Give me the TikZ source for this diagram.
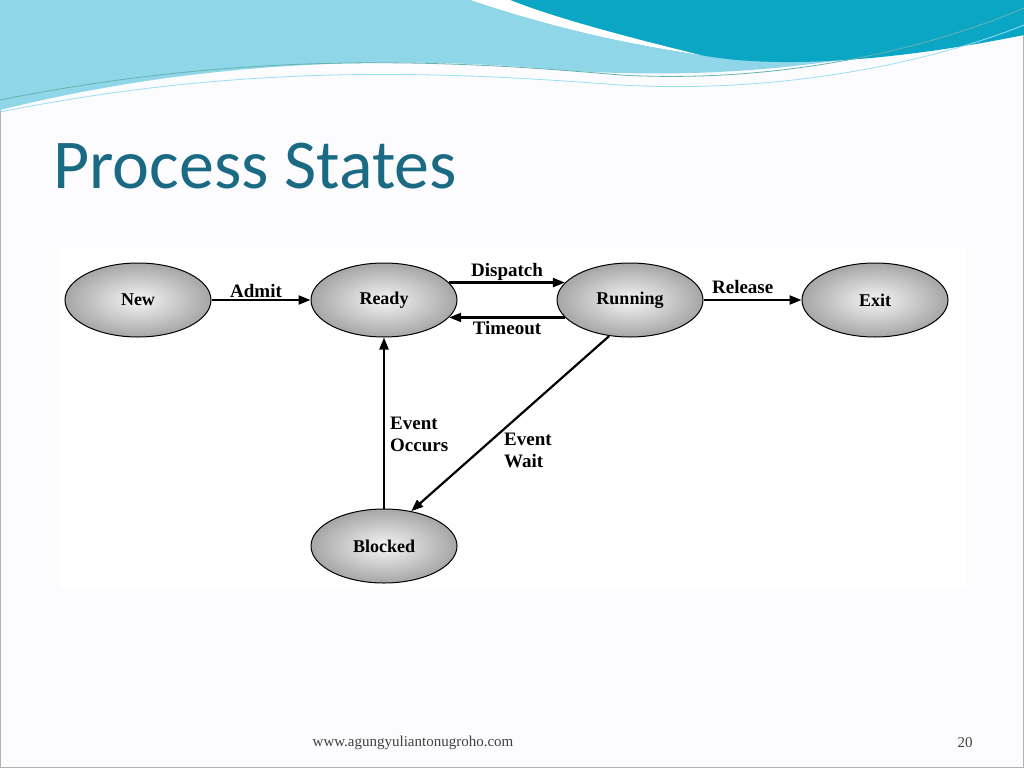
\documentclass[tikz,border=0pt]{standalone}
\usepackage{fontspec}
\setmainfont{Liberation Serif}
\newfontfamily\titlefont{Carlito}
\usetikzlibrary{arrows.meta,shapes.geometric}
\definecolor{titlec}{HTML}{1B6A84}
\definecolor{wavelight}{HTML}{8ED6E8}
\definecolor{wavedark}{HTML}{0AA6C4}
\begin{document}
\begin{tikzpicture}[x=1pt,y=-1pt,
  state/.style={ellipse,draw=black,line width=1pt,minimum width=146pt,minimum height=74pt,
    inner color=white!92!gray,outer color=black!35,font=\bfseries\fontsize{18}{20}\selectfont},
  arr/.style={-{Triangle[length=12pt,width=9pt]},line width=2.2pt},
  lab/.style={font=\bfseries\fontsize{19}{22}\selectfont,align=left,inner sep=1pt}]
\useasboundingbox (0,0) rectangle (1024,768);
\fill[white!96!blue!30] (0,0) rectangle (1024,768);
\draw[gray!60,line width=1pt] (0.5,0.5) rectangle (1023.5,767.5);
% header waves
\fill[wavelight] (0,0) -- (1024,0) -- (1024,20) .. controls (850,70) and (700,80) .. (560,70) .. controls (400,55) and (200,60) .. (0,110) -- cycle;
\fill[wavedark] (470,0) -- (1024,0) -- (1024,35) .. controls (900,60) and (780,70) .. (700,55) .. controls (600,40) and (530,20) .. (470,0) -- cycle;
\fill[white] (470,0) .. controls (530,20) and (600,40) .. (700,55) .. controls (640,40) and (560,20) .. (510,0) -- cycle;
\draw[teal!60,line width=0.8pt] (0,100) .. controls (250,50) and (450,60) .. (620,75) .. controls (800,85) and (950,40) .. (1024,8);
\draw[cyan!40!white,line width=0.8pt] (0,112) .. controls (250,62) and (450,72) .. (620,85) .. controls (800,95) and (950,55) .. (1024,25);
% title
\node[anchor=base west,inner sep=0,text=titlec,font=\titlefont\fontsize{70}{72}\selectfont] (title) at (53,188) {Process States};
% diagram area
\fill[white] (60,248) rectangle (967,588);
\node[state] (new) at (138,300) {New};
\node[state] (ready) at (384,300) {Ready};
\node[state] (run) at (630,300) {Running};
\node[state] (exit) at (875,300) {Exit};
\node[state] (blk) at (384,546) {Blocked};
\draw[arr] (new) -- node[lab,above,pos=0.45]{Admit} (ready);
\draw[arr] (ready.15) -- node[lab,above]{Dispatch} (run.165);
\draw[arr] (run.195) -- node[lab,below,yshift=-2pt]{Timeout} (ready.345);
\draw[arr] (run) -- node[lab,above,pos=0.4,yshift=4pt]{Release} (exit);
\coordinate (ewl) at (503,450);
\coordinate (eol) at (389,434);
\draw[arr] (run.240) -- (blk.52);
\draw[arr] (blk.90) -- (ready.270);
\node[lab,anchor=west] (ew) at (ewl) {Event\\Wait};
\node[lab,anchor=west] (eo) at (eol) {Event\\Occurs};
% footer
\node[font=\fontsize{15}{17}\selectfont,text=black!75] (url) at (413,743) {www.agungyuliantonugroho.com};
\node[font=\fontsize{15}{17}\selectfont,text=black!75] (pg) at (965,743) {20};
\end{tikzpicture}
\end{document}
